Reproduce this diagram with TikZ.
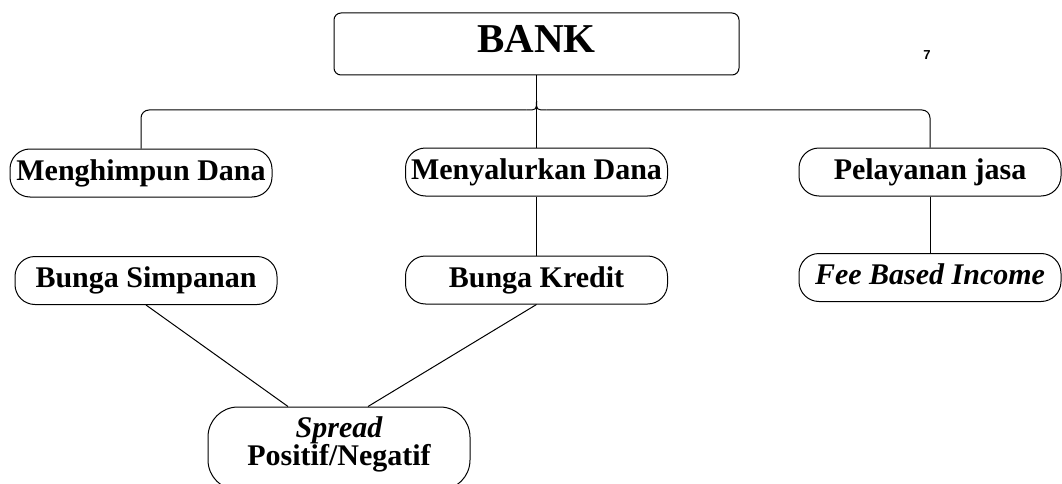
\documentclass[tikz,border=0pt]{standalone}
\usepackage{fontspec}
\setmainfont{Liberation Serif}
\newfontfamily\sevenfont{Liberation Sans}
\usetikzlibrary{calc}
\tikzset{
  conn/.style={line width=1pt, black},
  box/.style={draw, line width=1pt, rounded corners=20pt, minimum width=262pt,
    minimum height=48pt, inner sep=0pt,
    font=\fontsize{30}{34}\selectfont\bfseries, text height=21pt, text depth=6.6pt},
  bankbox/.style={draw, line width=1pt, rounded corners=7pt, minimum width=405pt,
    minimum height=62pt, inner sep=0pt,
    font=\fontsize{41}{48}\selectfont\bfseries, text height=28pt, text depth=10pt},
  spreadbox/.style={draw, line width=1pt, rounded corners=30pt, minimum width=262pt,
    minimum height=83pt, inner sep=0pt},
  spreadtext/.style={align=center, inner sep=0pt, font=\fontsize{30}{28}\selectfont\bfseries}
}
\begin{document}
\begin{tikzpicture}[x=1pt,y=-1pt]
\useasboundingbox (0,0) rectangle (1062,484);
\clip (0,0) rectangle (1062,484);

\node[bankbox] (bank) at (536.5,44) {BANK};
\node[font=\sevenfont\fontsize{13}{14}\selectfont\bfseries, inner sep=0pt] (seven) at (927,55) {7};

\node[box] (him) at (141,173) {Menghimpun Dana};
\node[box] (nyal) at (536.5,172) {Menyalurkan Dana};
\node[box] (pel) at (930,172) {Pelayanan jasa};

\node[box] (bsim) at (146,280.5) {Bunga Simpanan};
\node[box] (bkr) at (536.5,280) {Bunga Kredit};
\node[box, font=\fontsize{30}{34}\selectfont\bfseries\itshape] (fee) at (930,277.5) {Fee Based Income};

\node[spreadbox] (spr) at (339,448.5) {};
\node[spreadtext] (sprt) at (339,444) {{\bfseries\itshape Spread}\\Positif/Negatif};

% connectors from BANK
\coordinate (j) at (536.5,101);
\coordinate (bl) at (526.5,110);
\coordinate (br) at (546.5,110);
\draw[conn] (bank.south) -- (j);
\draw[conn] (j) -- (nyal.north);
\draw[conn] (j) .. controls (536.5,110) .. (bl);
\draw[conn] (j) .. controls (536.5,110) .. (br);
\draw[conn, rounded corners=8pt] (bl) -| (him.north);
\draw[conn, rounded corners=8pt] (br) -| (pel.north);

% lower connectors
\draw[conn] (nyal.south) -- (bkr.north);
\draw[conn] (pel.south) -- (fee.north);
\draw[conn] (bsim.south) -- ($(spr.north)+(-51,0)$);
\draw[conn] (bkr.south) -- ($(spr.north)+(29,0)$);
\end{tikzpicture}
\end{document}
